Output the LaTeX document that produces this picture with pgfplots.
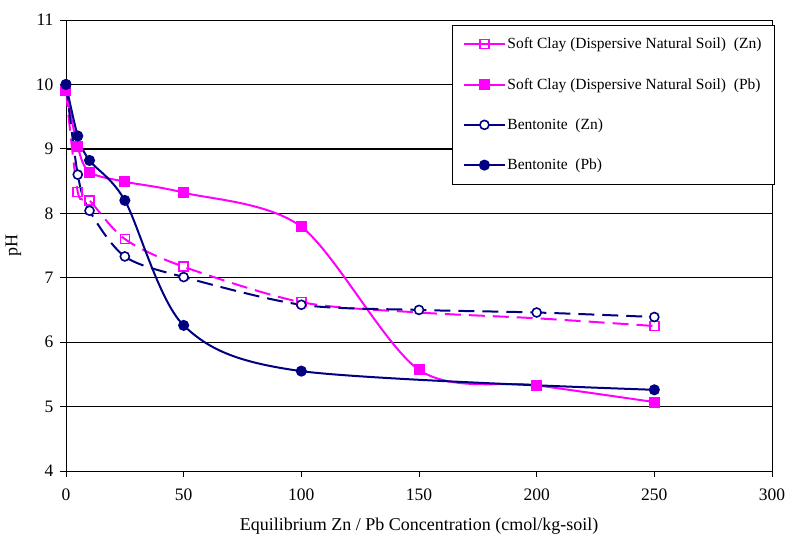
\documentclass[border=0pt]{standalone}
\usepackage{fontspec}
\setmainfont{Liberation Serif}
\usepackage{pgfplots}
\pgfplotsset{compat=1.18}
\definecolor{pinkm}{RGB}{255,0,255}
\definecolor{navyb}{RGB}{0,0,128}
\begin{document}
\begin{tikzpicture}
\begin{axis}[
  scale only axis, width=706pt, height=451pt,
  xmin=0, xmax=300, ymin=4, ymax=11,
  xtick={0,50,...,300}, ytick={4,...,11},
  tick align=outside, tick pos=left, major tick length=6pt,
  ymajorgrids, grid style={black, line width=0.8pt},
  axis line style={line width=0.8pt},
  tick style={black, line width=0.8pt},
  extra y ticks={9}, extra y tick labels={},
  extra y tick style={grid style={black, line width=1.6pt}},
  ticklabel style={font=\fontsize{17.5}{20}\selectfont},
  xticklabel style={yshift=-8pt},
  yticklabel style={xshift=-3pt},
  /pgf/number format/assume math mode=true,
  xlabel={Equilibrium Zn / Pb Concentration (cmol/kg-soil)},
  ylabel={pH},
  label style={font=\fontsize{18}{20}\selectfont},
  xlabel style={yshift=-11pt},
  ylabel style={yshift=-4pt},
  legend style={at={(1.004,0.99)}, anchor=north east, draw=black, line width=0.8pt,
    fill=white, font=\fontsize{15.5}{18}\selectfont, row sep=24pt,
    inner xsep=11pt, inner ysep=11pt},
  legend cell align=left,
  legend image code/.code={\draw[mark repeat=2, mark phase=2, #1, mark indices={2}, solid] plot coordinates {(0pt,0pt) (20pt,0pt) (40pt,0pt)};},
  every axis plot/.append style={line width=2pt, smooth, tension=0.5},
]
\addplot[pinkm, dashed, dash pattern=on 16pt off 8pt, mark=square, mark size=4.5pt,
  mark options={solid, fill=white, line width=1.6pt}, mark indices={1,2,3,4,5,6,9}]
  coordinates {(0,9.9) (5,8.33) (10,8.2) (25,7.6) (50,7.17) (100,6.62) (150,6.46) (200,6.37) (250,6.25)};
\addlegendentry{Soft Clay (Dispersive Natural Soil)\ \ (Zn)}
\addplot[pinkm, mark=square*, mark size=4.5pt, mark options={solid}]
  coordinates {(0,9.9) (5,9.03) (10,8.64) (25,8.49) (50,8.32) (100,7.79) (150,5.57) (200,5.33) (250,5.07)};
\addlegendentry{Soft Clay (Dispersive Natural Soil)\ \ (Pb)}
\addplot[navyb, dashed, dash pattern=on 16pt off 8pt, mark=*, mark size=4.5pt,
  mark options={solid, fill=white, line width=1.6pt}]
  coordinates {(0,10.0) (5,8.6) (10,8.04) (25,7.33) (50,7.01) (100,6.58) (150,6.5) (200,6.46) (250,6.39)};
\addlegendentry{Bentonite\ \ (Zn)}
\addplot[navyb, mark=*, mark size=4.5pt, mark options={solid}]
  coordinates {(0,10.0) (5,9.2) (10,8.82) (25,8.2) (50,6.26) (100,5.55) (250,5.26)};
\addlegendentry{Bentonite\ \ (Pb)}
\end{axis}
\path ([shift={(-66pt,-62pt)}]current axis.south west) rectangle ([shift={(20pt,20pt)}]current axis.north east);
\end{tikzpicture}
\end{document}
